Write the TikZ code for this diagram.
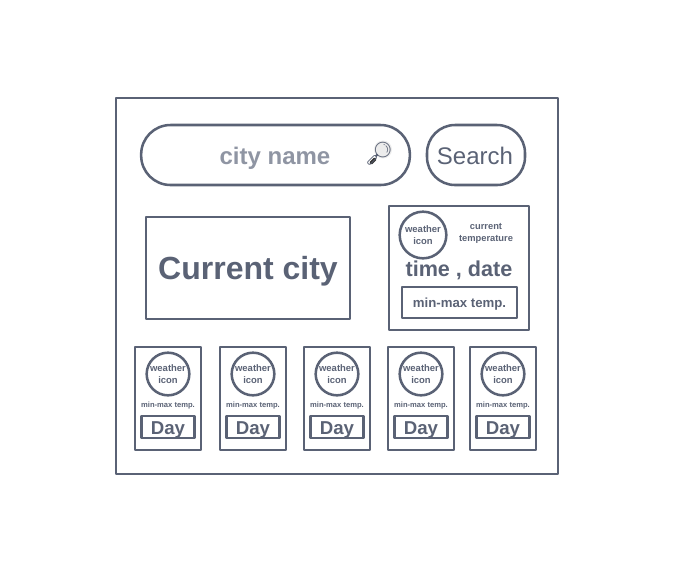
\documentclass[tikz,border=0pt]{standalone}
\usepackage{fontspec}
\setmainfont{Liberation Sans}
\newfontfamily\emojifont{Noto Emoji}
\definecolor{ink}{HTML}{5A6275}
\definecolor{soft}{HTML}{8F95A3}
\tikzset{
  x=0.75pt,y=-0.75pt,
  boxline/.style={draw=ink,line width=1.9pt,line join=round},
  plainbox/.style={boxline,inner sep=0pt},
  lbl/.style={text=ink,inner sep=0pt,align=center},
  baselbl/.style={lbl,anchor=base},
  card/.style={plainbox,minimum width=49.5pt,minimum height=77pt},
  dayb/.style={plainbox,minimum width=39.5pt,minimum height=16.5pt},
  daytext/.style={baselbl,font=\fontsize{14}{16}\selectfont\bfseries},
  iconc/.style={boxline,circle,minimum size=32pt,inner sep=0pt,text=ink,align=center,font=\fontsize{7.1}{8.6}\selectfont\bfseries},
  small/.style={lbl,font=\fontsize{5.7}{6.5}\selectfont\bfseries}
}
\begin{document}
\begin{tikzpicture}
\useasboundingbox (0,0) rectangle (673,572);
\node[plainbox,minimum width=331.5pt,minimum height=282pt] (outer) at (337,286) {};
\node[plainbox,rounded corners=22pt,minimum width=201.5pt,minimum height=45pt] (citybox) at (275.5,155) {};
\node[lbl,text=soft,font=\fontsize{18}{20}\selectfont\bfseries] (cityname) at (275,158) {city name};
\fill[gray!15] (383,149.5) circle (9);
\draw[black!80,line width=2.6pt,line cap=round] (375,159) -- (371,163);
\node[inner sep=0pt,text=ink,font=\emojifont\fontsize{17}{19}\selectfont] (glass) at (379,154) {🔎};
\node[plainbox,rounded corners=21pt,minimum width=73.5pt,minimum height=45pt] (search) at (476,155) {};
\node[baselbl,font=\fontsize{18}{21}\selectfont] (searchtext) at (475,164) {Search};
\node[plainbox,minimum width=153pt,minimum height=76.5pt] (current) at (248,268) {};
\node[baselbl,font=\fontsize{24}{28}\selectfont\bfseries] (currenttext) at (248,279) {Current city};
\node[plainbox,minimum width=105pt,minimum height=93pt] (panel) at (459,268) {};
\node[iconc,minimum size=35pt,font=\fontsize{7.1}{8.8}\selectfont\bfseries] (panelicon) at (423,235) {weather\\icon};
\node[lbl,font=\fontsize{7}{9}\selectfont\bfseries] (temp) at (486,233) {current\\temperature};
\node[baselbl,font=\fontsize{16.2}{18}\selectfont\bfseries] (timedate) at (459,276.5) {time , date};
\node[plainbox,minimum width=86pt,minimum height=23pt] (panelrange) at (459.5,302.5) {};
\node[baselbl,font=\fontsize{9.9}{11}\selectfont\bfseries] (rangetext) at (459.5,307) {min-max temp.};
\foreach \n/\cx in {a/168,b/253,c/337,d/421,e/503}{
  \node[card] (card\n) at (\cx,398.5) {};
  \node[iconc] (icon\n) at (\cx,374) {weather\\icon};
  \node[small] (range\n) at (\cx,406) {min-max temp.};
  \node[dayb] (day\n) at (\cx,427) {};
  \node[daytext] (daytext\n) at (\cx,434) {Day};
}
\end{tikzpicture}
\end{document}
